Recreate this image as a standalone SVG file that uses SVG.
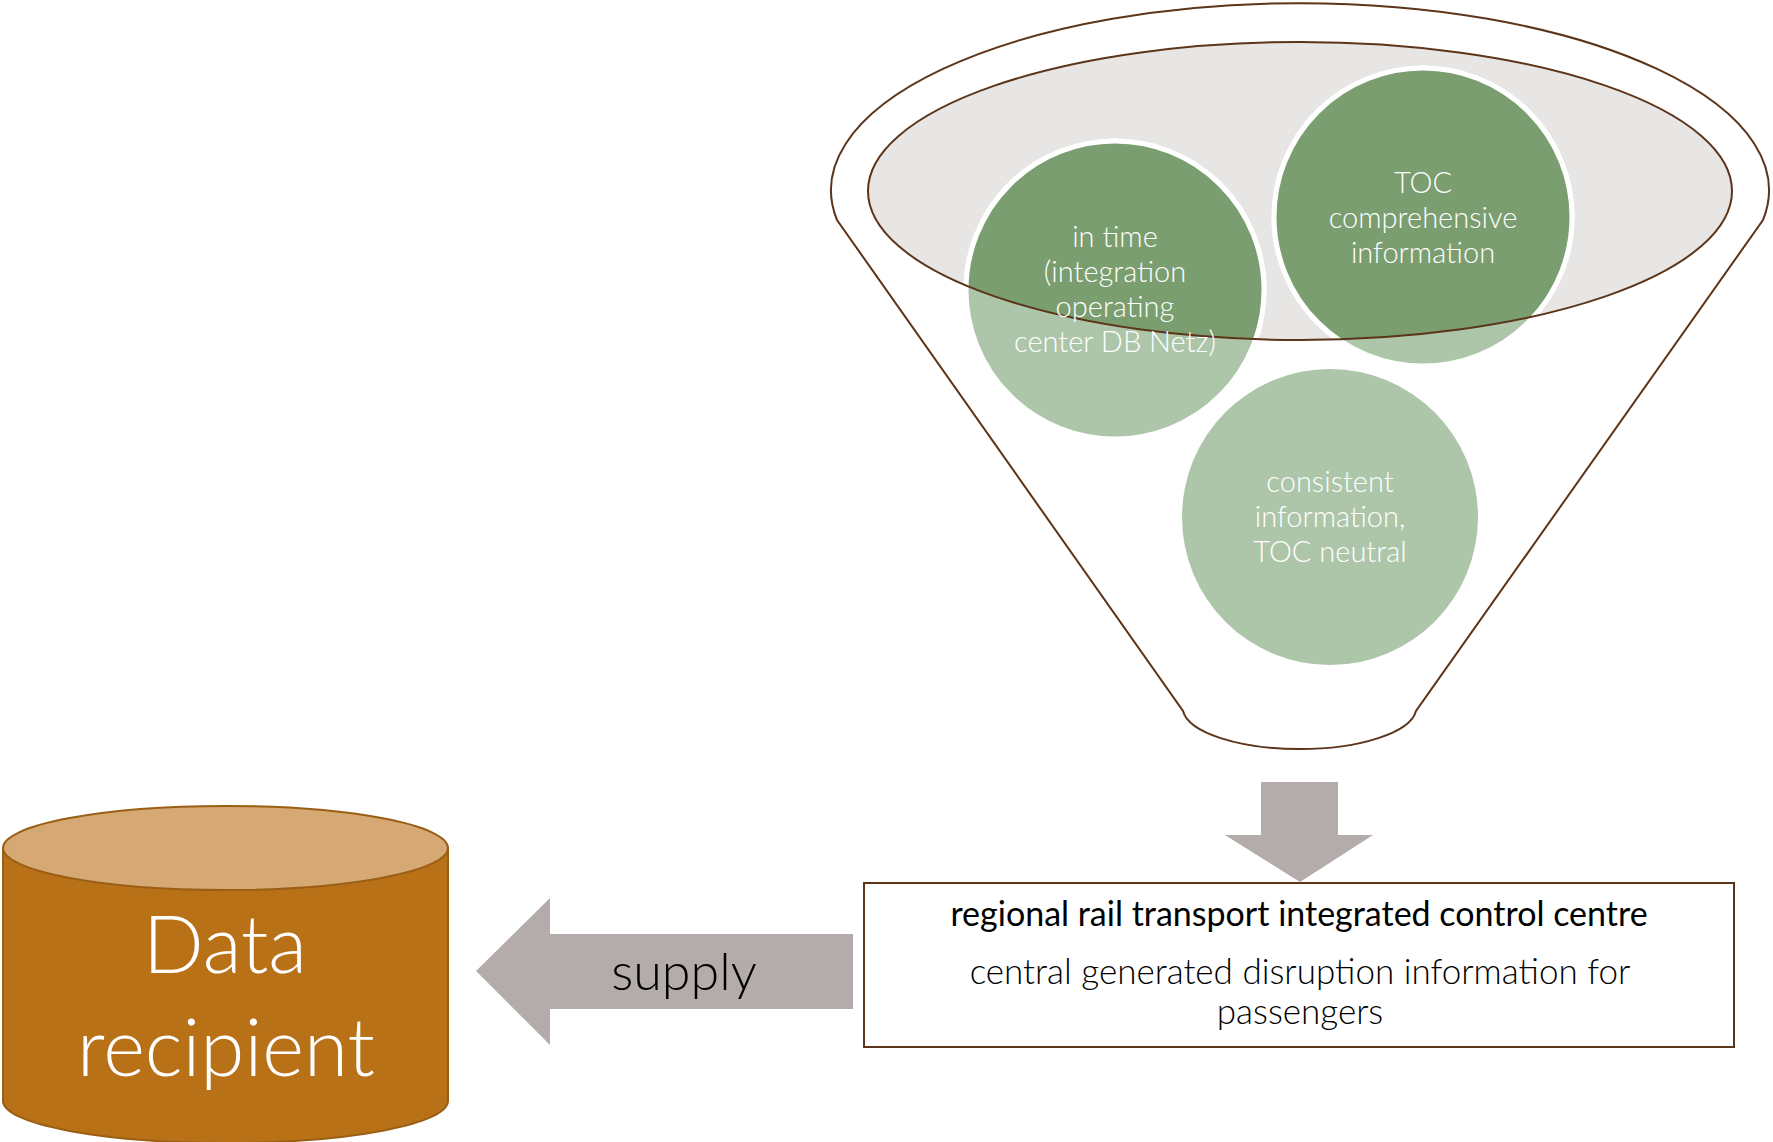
<svg xmlns="http://www.w3.org/2000/svg" width="1773" height="1142" viewBox="0 0 1773 1142">
<style>
.lt{font-family:Lato,"Open Sans","Liberation Sans",sans-serif;font-weight:300;text-anchor:middle}
.rg{font-family:Lato,"Open Sans","Liberation Sans",sans-serif;font-weight:400;text-anchor:middle}
.ct{fill:#ffffff;font-size:29px}
.brown{fill:none;stroke:#5C3419;stroke-width:2}
.arrow{fill:#B4ACAA}
</style>
<defs>
<clipPath id="inner"><ellipse cx="1300" cy="191" rx="432" ry="149"/></clipPath>
</defs>
<g id="funnel">
<path d="M837,220 A469,187 0 1 1 1763,220 L1416,711 A117,42 0 0 1 1183,711 Z" fill="#ffffff" stroke="#5C3419" stroke-width="2"/>
<ellipse cx="1300" cy="191" rx="432" ry="149" fill="#E7E6E4"/>
</g>
<g id="circle-in-time">
<circle cx="1115" cy="290" r="149" fill="#ADC6A9" stroke="#ffffff" stroke-width="5"/>
<circle cx="1115" cy="290" r="149" fill="#7A9E6F" stroke="#ffffff" stroke-width="5" clip-path="url(#inner)"/>
</g>
<g id="circle-toc">
<circle cx="1423" cy="217" r="149" fill="#ADC6A9" stroke="#ffffff" stroke-width="5"/>
<circle cx="1423" cy="217" r="149" fill="#7A9E6F" stroke="#ffffff" stroke-width="5" clip-path="url(#inner)"/>
</g>
<g id="circle-consistent">
<circle cx="1330" cy="517" r="148" fill="#ADC6A9"/>
</g>
<ellipse cx="1300" cy="191" rx="432" ry="149" class="brown"/>
<g id="labels-circles">
<text class="lt ct" x="1115" y="247">in time</text>
<text class="lt ct" x="1115" y="282">(integration</text>
<text class="lt ct" x="1115" y="317">operating</text>
<text class="lt ct" x="1115" y="352">center DB Netz)</text>
<text class="lt ct" x="1423" y="193">TOC</text>
<text class="lt ct" x="1423" y="228">comprehensive</text>
<text class="lt ct" x="1423" y="263">information</text>
<text class="lt ct" x="1330" y="492">consistent</text>
<text class="lt ct" x="1330" y="527">information,</text>
<text class="lt ct" x="1330" y="562">TOC neutral</text>
</g>
<g id="connectors">
<path class="arrow" d="M1261,782 L1338,782 L1338,835 L1373,835 L1300,882 L1225,835 L1261,835 Z"/>
<path class="arrow" d="M853,934 L550,934 L550,898 L476,971 L550,1045 L550,1009 L853,1009 Z"/>
<text class="lt" x="684" y="990" font-size="52" fill="#000000">supply</text>
</g>
<g id="control-centre">
<rect x="864" y="883" width="870" height="164" fill="#ffffff" stroke="#5C3419" stroke-width="2"/>
<text class="rg" x="1299" y="926" font-size="34" fill="#000000">regional rail transport integrated control centre</text>
<text class="lt" x="1300" y="984" font-size="35" fill="#000000">central generated disruption information for</text>
<text class="lt" x="1300" y="1024" font-size="35" fill="#000000">passengers</text>
</g>
<g id="data-recipient">
<path d="M3,848 L3,1101 A222.5,42 0 0 0 448,1101 L448,848 Z" fill="#B97118" stroke="#9A5F15" stroke-width="2"/>
<ellipse cx="225.5" cy="848" rx="222.5" ry="42" fill="#D6A874" stroke="#9A5F15" stroke-width="2"/>
<text class="lt" x="225" y="973" font-size="80" fill="#ffffff">Data</text>
<text class="lt" x="226" y="1076" font-size="80" fill="#ffffff">recipient</text>
</g>
</svg>
